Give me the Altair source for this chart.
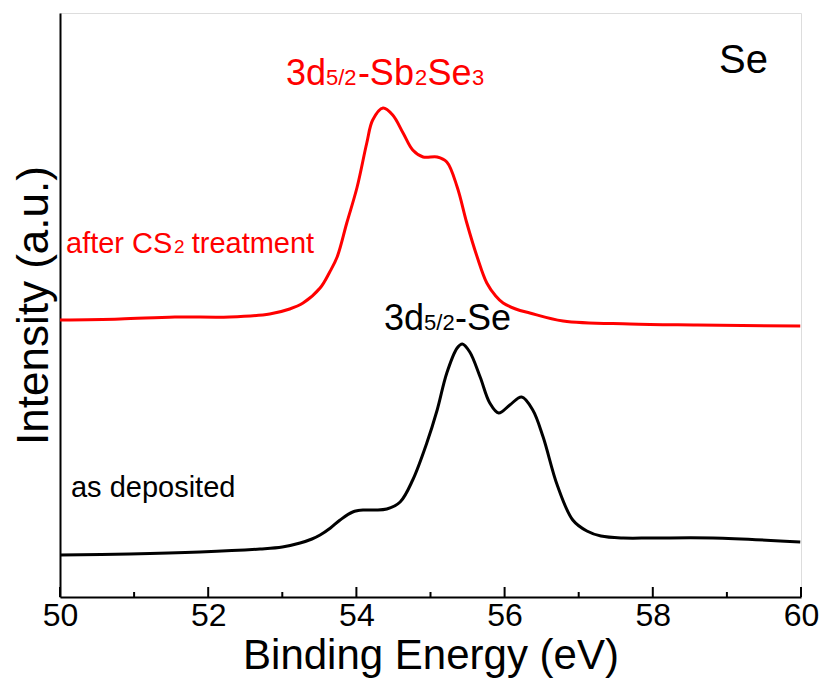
import altair as alt
import pandas as pd

# Se 3d XPS spectra: binding energy (eV) vs intensity (a.u.)
as_dep_energy = [50.00, 50.94, 51.89, 52.70, 53.00, 53.24, 53.40, 53.51, 53.65, 53.78,
                 53.95, 54.10, 54.25, 54.41, 54.59, 54.76, 54.95, 55.09, 55.22, 55.36,
                 55.43, 55.53, 55.67, 55.80, 55.92, 56.07, 56.23, 56.38, 56.52, 56.71,
                 56.92, 57.11, 57.30, 57.60, 58.00, 58.81, 59.99]
as_dep_intensity = [42, 43, 45, 48, 50, 54, 58, 62, 69, 77,
                    85, 87, 87, 88, 95, 117, 154, 187, 224, 249,
                    253, 245, 220, 194, 184, 192, 200, 187, 160, 112,
                    77, 66, 61, 59, 59, 59, 55]

cs2_energy = [50.00, 50.81, 51.55, 52.29, 52.83, 53.10, 53.28, 53.51, 53.64, 53.74,
              53.87, 54.01, 54.14, 54.22, 54.36, 54.49, 54.63, 54.76, 54.90, 55.09,
              55.22, 55.36, 55.49, 55.63, 55.76, 55.88, 55.98, 56.15, 56.34, 56.79,
              57.69, 58.60, 59.99]
cs2_intensity = [277, 278, 280, 280, 283, 288, 294, 309, 325, 340,
                 374, 410, 454, 477, 489, 482, 464, 447, 440, 440,
                 435, 410, 374, 340, 314, 301, 294, 288, 284, 276,
                 273, 272, 271]

major_ticks = [50, 52, 54, 56, 58, 60]
minor_ticks = [51, 53, 55, 57, 59]

FONT = "Liberation Sans"
RED = "#ff0000"

spectra = pd.concat([
    pd.DataFrame({"E": as_dep_energy, "I": as_dep_intensity, "s": "as deposited"}),
    pd.DataFrame({"E": cs2_energy, "I": cs2_intensity, "s": "after CS2 treatment"}),
])

x_scale = alt.Scale(domain=[50, 60], nice=False, zero=False)
y_scale = alt.Scale(domain=[0, 584], nice=False, zero=False)

lines = alt.Chart(spectra).mark_line(strokeWidth=3, interpolate="catmull-rom").encode(
    x=alt.X("E:Q", scale=x_scale,
            axis=alt.Axis(title="Binding Energy (eV)", values=major_ticks, format="d",
                          ticks=False, labelFlush=False, labelPadding=3,
                          labelFontSize=32, titleFontSize=42, titlePadding=4,
                          titleFontWeight="normal", domainColor="black",
                          domainWidth=2, grid=False)),
    y=alt.Y("I:Q", scale=y_scale,
            axis=alt.Axis(title="Intensity (a.u.)", labels=False, ticks=False,
                          titleFontSize=44, titleFontWeight="normal", titlePadding=4,
                          domainColor="black", domainWidth=2, grid=False)),
    color=alt.Color("s:N", scale=alt.Scale(domain=["as deposited", "after CS2 treatment"],
                                           range=["black", RED]), legend=None),
    detail="s:N",
)

# inward ticks along the energy axis
ticks_df = pd.concat([
    pd.DataFrame({"E": major_ticks, "base": 0, "len": 10}),
    pd.DataFrame({"E": minor_ticks, "base": 0, "len": 5}),
])
ticks = alt.Chart(ticks_df).mark_rule(color="black", strokeWidth=2).encode(
    x=alt.X("E:Q", scale=x_scale),
    y=alt.Y("base:Q", scale=y_scale),
    y2="len:Q",
)


def label(text, e, i, size, color="black"):
    df = pd.DataFrame({"t": [text], "E": [e], "I": [i]})
    return alt.Chart(df).mark_text(
        font=FONT, fontSize=size, color=color,
        align="left", baseline="alphabetic",
    ).encode(x=alt.X("E:Q", scale=x_scale), y=alt.Y("I:Q", scale=y_scale), text="t:N")


annotations = [
    # 3d5/2-Sb2Se3
    label("3d", 53.050, 512, 36, RED),
    label("5/2", 53.590, 512, 22, RED),
    label("-Sb", 54.020, 512, 36, RED),
    label("2", 54.790, 512, 22, RED),
    label("Se", 54.960, 512, 36, RED),
    label("3", 55.560, 512, 22, RED),
    # 3d5/2-Se
    label("3d", 54.373, 267, 36),
    label("5/2", 54.913, 267, 22),
    label("-Se", 55.330, 267, 36),
    # sample labels
    label("after CS", 50.081, 344, 29, RED),
    label("2", 51.540, 344, 19, RED),
    label("treatment", 51.777, 344, 29, RED),
    label("as deposited", 50.148, 100, 29),
    label("Se", 58.893, 524, 40),
]

chart = alt.layer(lines, ticks, *annotations).properties(
    width=741, height=584,
    autosize=alt.AutoSizeParams(type="none"),
    padding={"left": 60, "top": 13, "right": 21, "bottom": 82},
).configure_view(
    stroke="black", strokeWidth=2,
).configure_axis(
    labelFont=FONT, titleFont=FONT, labelColor="black", titleColor="black",
).configure(background="white")

chart.save("out.html", embed_options={"renderer": "svg", "actions": False})
